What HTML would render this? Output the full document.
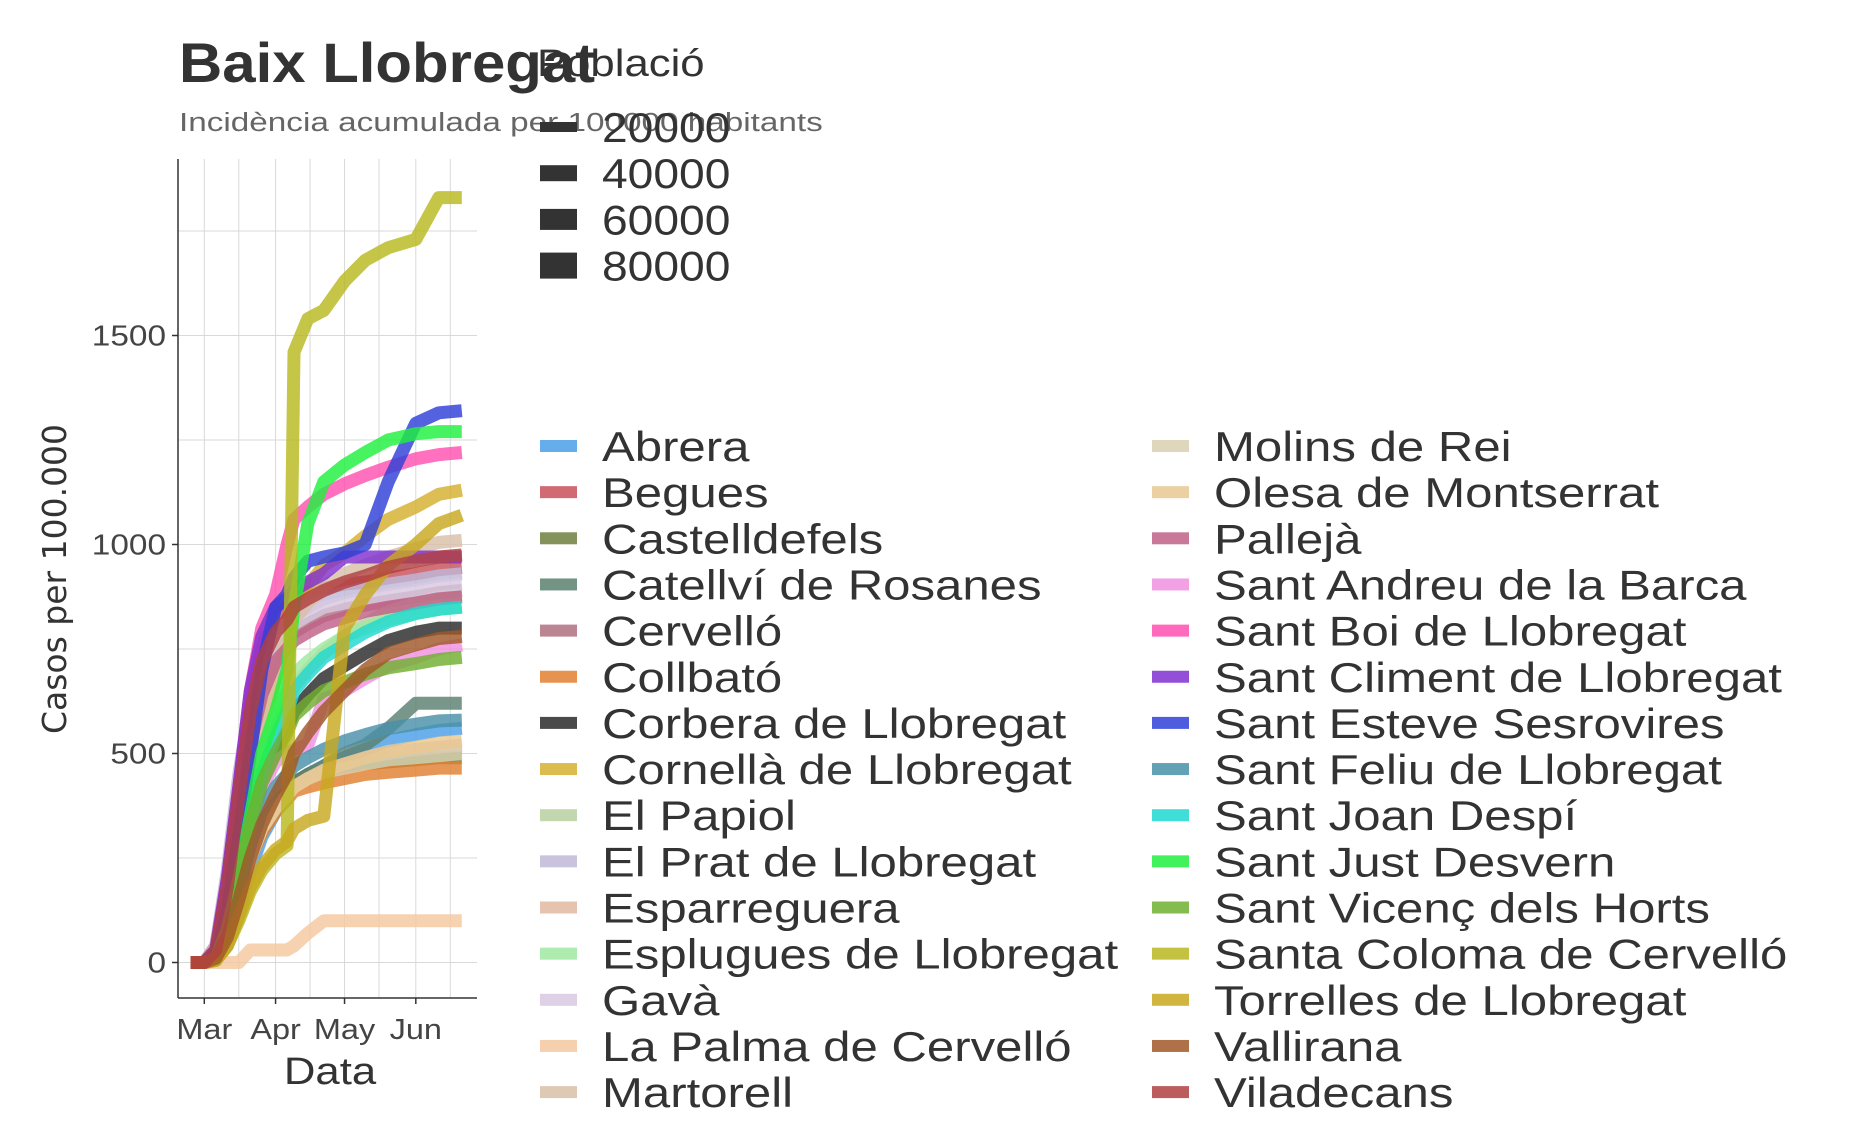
<!DOCTYPE html>
<html><head><meta charset="utf-8"><style>
html,body{margin:0;padding:0;background:#fff;}
svg text{font-family:"Liberation Sans",sans-serif;}
</style></head><body>
<svg id="chart" width="1850" height="1132" viewBox="0 0 1850 1132" xmlns="http://www.w3.org/2000/svg">
<rect width="1850" height="1132" fill="#fff"/>
<text transform="translate(179,82) scale(1.07,1)" font-size="56" font-weight="bold" fill="#333">Baix Llobregat</text>
<text transform="translate(179,131) scale(1.28,1)" font-size="26" fill="#666">Incidència acumulada per 100000 habitants</text>
<g id="grid"></g>
<g id="lines"></g>
<g id="axes"></g>
<text transform="translate(66,579) rotate(-90)" text-anchor="middle" font-size="33" fill="#333" style="font-family:'DejaVu Sans',sans-serif">Casos per 100.000</text>
<text transform="translate(330,1084) scale(1.15,1)" text-anchor="middle" font-size="38" fill="#333">Data</text>
<text transform="translate(537,76) scale(1.15,1)" font-size="38" fill="#333">Població</text>
<g id="sizeLegend"></g>
<g id="legend"></g>
</svg>
<script>
const days = [-6,0,5,10,15,20,25,31,36,39,45,52,61,70,80,92,102,112];
const names = ["Abrera","Begues","Castelldefels","Catellví de Rosanes","Cervelló","Collbató","Corbera de Llobregat","Cornellà de Llobregat","El Papiol","El Prat de Llobregat","Esparreguera","Esplugues de Llobregat","Gavà","La Palma de Cervelló","Martorell","Molins de Rei","Olesa de Montserrat","Pallejà","Sant Andreu de la Barca","Sant Boi de Llobregat","Sant Climent de Llobregat","Sant Esteve Sesrovires","Sant Feliu de Llobregat","Sant Joan Despí","Sant Just Desvern","Sant Vicenç dels Horts","Santa Coloma de Cervelló","Torrelles de Llobregat","Vallirana","Viladecans"];
const seriesValues = [
[0,0,5,40,120,220,300,360,400,430,450,470,490,510,530,545,555,560],
[0,0,40,200,420,620,750,830,850,870,885,895,905,910,920,930,940,945],
[0,0,5,60,160,260,330,380,410,430,450,460,470,475,480,485,490,490],
[0,0,5,60,170,270,330,380,410,430,450,470,500,520,560,620,620,620],
[0,0,20,150,350,550,680,750,770,790,810,830,845,855,865,875,885,890],
[0,0,5,60,160,250,310,360,390,410,420,430,440,450,455,460,465,465],
[0,0,10,80,200,330,430,500,560,600,640,680,710,740,770,790,800,800],
[0,0,15,100,250,420,560,680,780,850,900,950,980,1020,1060,1090,1120,1130],
[0,0,10,90,220,360,470,560,620,660,700,740,780,810,840,860,875,880],
[0,0,40,220,450,620,720,780,810,830,850,870,885,895,905,915,925,930],
[0,0,5,50,150,250,320,370,400,420,440,460,475,490,500,510,515,520],
[0,0,10,90,230,380,500,590,650,690,720,750,780,800,820,835,845,850],
[0,0,30,200,420,600,700,760,790,810,830,850,860,870,880,890,900,905],
[0,0,0,0,0,30,30,30,30,40,70,100,100,100,100,100,100,100],
[0,0,20,130,300,470,600,700,780,820,860,900,930,950,970,990,1005,1010],
[0,0,5,50,150,250,320,370,400,420,440,455,465,475,485,490,495,500],
[0,0,5,50,150,250,320,370,400,420,440,460,475,490,505,515,525,530],
[0,0,20,140,330,520,640,720,750,770,790,810,825,840,850,860,870,875],
[0,0,10,80,200,330,420,480,500,510,520,630,650,680,710,730,750,760],
[0,0,30,200,420,650,800,880,1000,1060,1090,1120,1145,1165,1185,1205,1215,1220],
[0,0,30,200,420,650,780,850,870,890,910,930,970,970,970,970,970,970],
[0,0,20,120,300,500,700,850,880,920,960,970,980,1000,1150,1290,1315,1320],
[0,0,5,60,170,280,360,420,450,470,490,510,530,545,560,570,578,580],
[0,0,10,70,190,330,450,540,600,650,690,730,760,790,815,835,845,850],
[0,0,10,80,200,350,500,600,700,850,1050,1150,1190,1220,1250,1265,1270,1270],
[0,0,10,80,200,330,430,500,550,590,620,650,670,690,705,715,725,730],
[0,0,5,40,100,170,220,260,280,1460,1540,1560,1630,1680,1710,1730,1830,1830],
[0,0,5,40,110,180,230,270,290,320,340,350,800,880,950,1000,1050,1070],
[0,0,10,60,150,250,330,400,450,500,550,600,650,700,740,760,775,780],
[0,0,30,180,400,600,720,790,820,850,870,890,910,925,945,960,970,975]
];
const colors = ["#4a9fe8","#c8505a","#6e8040","#5a8070","#b07080","#e08030","#2a2a2a","#d4b030","#b8d0a0","#c0b8d8","#e0b8a0","#a0e8a0","#d8c8e0","#f5c8a0","#d8c0a8","#d8d0b0","#e8c890","#c06088","#f090e0","#ff50b0","#8030d0","#3040d8","#4890a8","#20d8d0","#20f040","#70b030","#b8b820","#c8a820","#a05828","#b04040"];
const yTicks = [0,500,1000,1500];
const yMinor = [250,750,1250,1750];
const xTickDays = [0,31,61,92];
const xTickLabels = ["Mar","Apr","May","Jun"];
const xMinorDays = [15,46,76,107];
const sizeLabels = ["20000","40000","60000","80000"];

const NS = "http://www.w3.org/2000/svg";
const X0 = 178, X1 = 477, Y0 = 159, Y1 = 998;
const xs = d => 204.3 + d * 2.299;
const ys = v => 962.5 - v * 0.418;
const SX = 1.17;
function mk(tag, attrs, parent){const e=document.createElementNS(NS,tag);for(const k in attrs)e.setAttribute(k,attrs[k]);parent.appendChild(e);return e;}

const grid = document.getElementById('grid');
[...yTicks, ...yMinor].forEach(v=>{
  const l = mk('line',{x1:X0,x2:X1,y1:ys(v),y2:ys(v),stroke:'#d9d9d9','stroke-width':1},grid);
  
  
});
[...xTickDays, ...xMinorDays].forEach(d=>{
  const l = mk('line',{x1:xs(d),x2:xs(d),y1:Y0,y2:Y1,stroke:'#d9d9d9','stroke-width':1},grid);
  
  
});

const lines = document.getElementById('lines');
seriesValues.forEach((vals,i)=>{
  const pts = vals.map((v,j)=>xs(days[j]).toFixed(1)+','+ys(v).toFixed(1)).join(' ');
  const p = mk('polyline',{points:pts,fill:'none',stroke:colors[i],'stroke-width':13,'stroke-opacity':0.82,'stroke-linejoin':'round'},lines);
  
  
});

const axes = document.getElementById('axes');
mk('line',{x1:X0,x2:X0,y1:Y0,y2:Y1,stroke:'#333','stroke-width':1.5},axes);
mk('line',{x1:X0,x2:X1,y1:Y1,y2:Y1,stroke:'#333','stroke-width':1.5},axes);
yTicks.forEach(v=>{
  mk('line',{x1:X0-6,x2:X0,y1:ys(v),y2:ys(v),stroke:'#333','stroke-width':1.5},axes);
  const t = mk('text',{transform:'translate('+(X0-12)+','+(ys(v)+10)+') scale(1.15,1)','text-anchor':'end','font-size':29,fill:'#444'},axes);
  t.textContent = v;
  
  
});
xTickDays.forEach((d,i)=>{
  mk('line',{x1:xs(d),x2:xs(d),y1:Y1,y2:Y1+6,stroke:'#333','stroke-width':1.5},axes);
  const t = mk('text',{transform:'translate('+xs(d)+',1039) scale(1.12,1)','text-anchor':'middle','font-size':29,fill:'#444'},axes);
  t.textContent = xTickLabels[i];
  
  
});

const sl = document.getElementById('sizeLegend');
const sizeH = [10,16,21,26];
sizeLabels.forEach((s,i)=>{
  const cy = 127 + i*46.2;
  const r = mk('rect',{x:540,y:cy-sizeH[i]/2,width:37,height:sizeH[i],fill:'#333'},sl);
  
  
  const t = mk('text',{transform:'translate(602,'+(cy+15)+') scale(1.1,1)','font-size':42,fill:'#333'},sl);
  t.textContent = s;
  
  
});

const lg = document.getElementById('legend');
names.forEach((n,i)=>{
  const col = Math.floor(i/15), row = i%15;
  const sx = col ? 1152 : 540, tx = col ? 1214 : 602;
  const cy = 446 + row*46.15;
  const r = mk('rect',{x:sx,y:cy-6,width:37,height:12,fill:colors[i],'fill-opacity':0.85},lg);
  
  
  const t = mk('text',{transform:'translate('+tx+','+(cy+15)+') scale('+SX+',1)','font-size':42,fill:'#333'},lg);
  t.textContent = n;
  
  
});
</script>
</body></html>
